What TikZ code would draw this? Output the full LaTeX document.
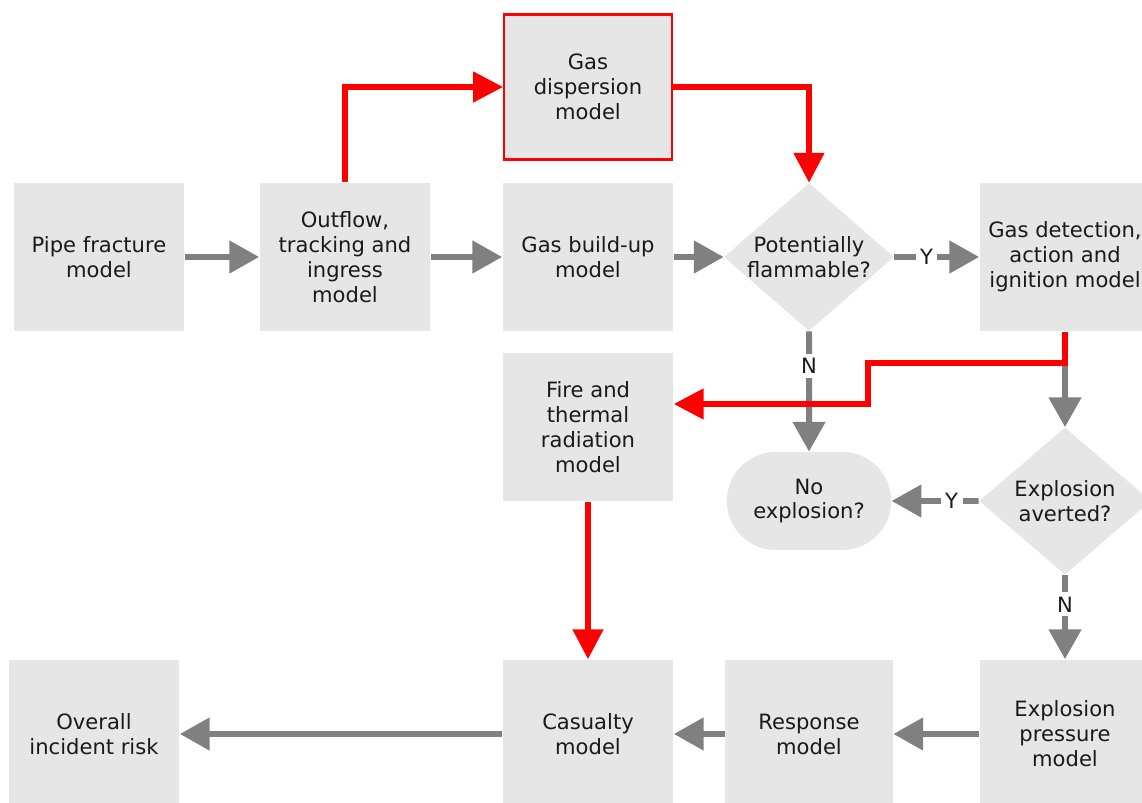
\documentclass[tikz,border=0pt]{standalone}
\usepackage{fontspec}
\setmainfont{DejaVu Sans}
\usepackage{xcolor}
\usetikzlibrary{positioning,calc,arrows.meta,shapes.geometric,shapes.misc}

\definecolor{boxgray}{HTML}{E6E6E6}
\definecolor{arrgray}{HTML}{808080}
\definecolor{txtgray}{HTML}{1A1A1A}
\definecolor{hired}{HTML}{FF0000}

\begin{document}
\begin{tikzpicture}[
  x=0.02cm, y=-0.02cm,
  box/.style={fill=boxgray, minimum width=3.42cm, minimum height=2.98cm,
    inner sep=1pt, font=\fontsize{12}{14.2}\selectfont, text=txtgray,
    align=center},
  dia/.style={box, shape=diamond, minimum width=3.4cm, minimum height=2.96cm,
    inner sep=-10pt},
  pill/.style={box, rounded rectangle, minimum width=3.36cm,
    minimum height=1.96cm},
  yn/.style={fill=white, inner sep=2.5pt, font=\fontsize{12}{12}\selectfont,
    text=txtgray},
  garr/.style={-{Triangle[length=17pt, width=18pt]}, line width=3.4pt,
    arrgray},
  rarr/.style={-{Triangle[length=17pt, width=17pt]}, line width=3pt, hired}
]
\useasboundingbox (0,0) rectangle (1142,803);

% ---- top row ----
\node[box] (pipe) at (99,257) {Pipe fracture\\model};
\node[box] (outflow) at (345,257) {Outflow,\\tracking and\\ingress\\model};
\node[box, draw=hired, line width=1.2pt, minimum width=3.36cm,
  minimum height=2.9cm] (disp) at (588,87) {Gas\\dispersion\\model};
\node[box] (buildup) at (588,257) {Gas build-up\\model};
\node[dia] (flam) at (809,257) {Potentially\\flammable?};
\node[box] (detect) at (1065,257) {Gas detection,\\action and\\ignition model};

% ---- middle row ----
\node[box] (fire) at (588,427) {Fire and\\thermal\\radiation\\model};
\node[pill] (noexp) at (809,501) {No\\explosion?};
\node[dia, minimum width=3.44cm, minimum height=2.94cm] (avert)
  at (1065,501) {Explosion\\averted?};

% ---- bottom row ----
\node[box] (overall) at (94,734) {Overall\\incident risk};
\node[box] (casualty) at (588,734) {Casualty\\model};
\node[box, minimum width=3.36cm] (response) at (809,734) {Response\\model};
\node[box] (pressure) at (1065,734) {Explosion\\pressure\\model};

% ---- grey flow ----
\draw[garr] (pipe) -- (outflow);
\draw[garr] (outflow) -- (buildup);
\draw[garr] (buildup) -- (flam);
\draw[garr] (flam) -- node[yn, pos=0.38] {Y} (detect);
\draw[garr] (flam) -- node[yn, pos=0.29] {N} (noexp);
\draw[garr] (detect) -- (avert);
\draw[garr] (avert) -- node[yn, pos=0.31] {Y} (noexp);
\draw[garr] (avert) -- node[yn, pos=0.35] {N} (pressure);
\draw[garr] (pressure) -- (response);
\draw[garr] (response) -- (casualty);
\draw[garr] (casualty) -- (overall);

% ---- red flow ----
\coordinate (jog) at (868,363);
\draw[rarr] (outflow.north) |- (disp.west);
\draw[rarr] (disp.east) -| (flam.north);
\draw[rarr] (detect.south) |- (jog) |- ([yshift=0.46cm]fire.east);
\draw[rarr] (fire) -- (casualty);
\end{tikzpicture}
\end{document}
